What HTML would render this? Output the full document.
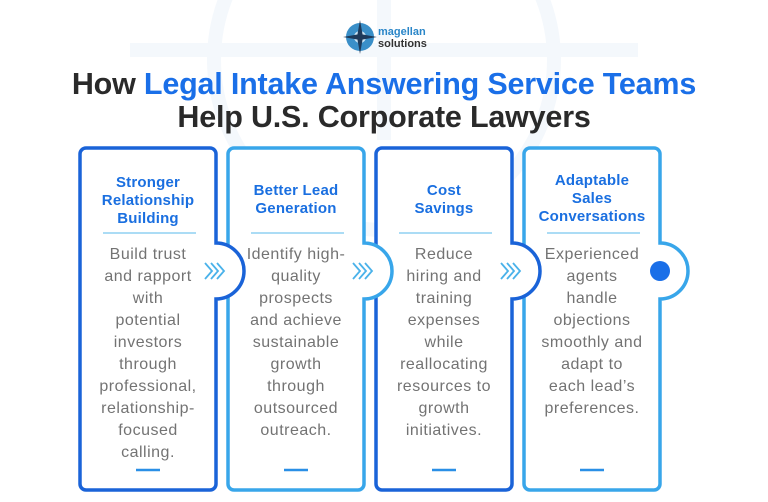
<!DOCTYPE html><html><head><style>
body{margin:0;width:768px;height:502px;overflow:hidden;background:#fff;font-family:"Liberation Sans",sans-serif;position:relative}
.t{position:absolute;width:768px;text-align:center;font-weight:bold;font-size:30.5px;color:#2a2a2a;letter-spacing:-0.2px}
.b{color:#1a6fe8}
.h{position:absolute;width:136px;text-align:center;font-weight:bold;color:#1a6fe0;font-size:15px;line-height:18px;letter-spacing:0.2px}
.p{position:absolute;width:136px;text-align:center;color:#737373;font-size:16px;line-height:22px;letter-spacing:0.5px}
</style></head><body>
<svg width="768" height="502" style="position:absolute;left:0;top:0">
<g fill="none" stroke="#f4f8fc" stroke-width="14">
<circle cx="384" cy="60" r="170"/><line x1="130" y1="50" x2="638" y2="50"/><line x1="384" y1="-20" x2="384" y2="140"/>
</g>
<defs>
<path id="c" d="M6,0 H130 a6,6 0 0 1 6,6 V95 a28,28 0 0 1 0,56 V336 a6,6 0 0 1 -6,6 H6 a6,6 0 0 1 -6,-6 V6 a6,6 0 0 1 6,-6Z"/>
</defs>
<g fill="#fff" stroke-width="3.5">
<use href="#c" x="524" y="148" stroke="#38a6ea"/>
<use href="#c" x="376" y="148" stroke="#1a63d8"/>
<use href="#c" x="228" y="148" stroke="#38a6ea"/>
<use href="#c" x="80" y="148" stroke="#1a63d8"/>
</g>
<g stroke="#8fd0f2" stroke-width="1.5">
<line x1="103" y1="233" x2="196" y2="233"/><line x1="251" y1="233" x2="344" y2="233"/><line x1="399" y1="233" x2="492" y2="233"/><line x1="547" y1="233" x2="640" y2="233"/>
</g>
<g stroke="#2a8fe6" stroke-width="2.5">
<line x1="136" y1="470" x2="160" y2="470"/><line x1="284" y1="470" x2="308" y2="470"/><line x1="432" y1="470" x2="456" y2="470"/><line x1="580" y1="470" x2="604" y2="470"/>
</g>
<g fill="none" stroke="#4ab2ea" stroke-width="1.8">
<path d="M205,263 l7,8 l-7,8 M211,263 l7,8 l-7,8 M217,263 l7,8 l-7,8"/>
<path d="M353,263 l7,8 l-7,8 M359,263 l7,8 l-7,8 M365,263 l7,8 l-7,8"/>
<path d="M501,263 l7,8 l-7,8 M507,263 l7,8 l-7,8 M513,263 l7,8 l-7,8"/>
</g>
<circle cx="660" cy="271" r="10" fill="#1a6fe8"/>
<circle cx="360" cy="37" r="14" fill="#3a8fc8"/><circle cx="360" cy="37" r="6" fill="#cfe6f4"/>
<path d="M360,20 L363,37 L360,54 L357,37Z M343,37 L360,34 L377,37 L360,40Z" fill="#1e3a5a"/>
<text x="378" y="35" font-size="11" font-weight="bold" fill="#2a86c8" font-family="Liberation Sans">magellan</text>
<text x="378" y="47" font-size="11" font-weight="bold" fill="#333" font-family="Liberation Sans">solutions</text>
</svg>
<div class="t" style="top:67px">How <span class="b">Legal Intake Answering Service Teams</span></div>
<div class="t" style="top:100px">Help U.S. Corporate Lawyers</div>
<div class="h" style="left:80px;top:174px">Stronger<br>Relationship<br>Building</div>
<div class="h" style="left:228px;top:182px">Better Lead<br>Generation</div>
<div class="h" style="left:376px;top:182px">Cost<br>Savings</div>
<div class="h" style="left:524px;top:172px">Adaptable<br>Sales<br>Conversations</div>
<div class="p" style="left:80px;top:244px">Build trust<br>and rapport<br>with<br>potential<br>investors<br>through<br>professional,<br>relationship-<br>focused<br>calling.</div>
<div class="p" style="left:228px;top:244px">Identify high-<br>quality<br>prospects<br>and achieve<br>sustainable<br>growth<br>through<br>outsourced<br>outreach.</div>
<div class="p" style="left:376px;top:244px">Reduce<br>hiring and<br>training<br>expenses<br>while<br>reallocating<br>resources to<br>growth<br>initiatives.</div>
<div class="p" style="left:524px;top:244px">Experienced<br>agents<br>handle<br>objections<br>smoothly and<br>adapt to<br>each lead’s<br>preferences.</div>
</body></html>
